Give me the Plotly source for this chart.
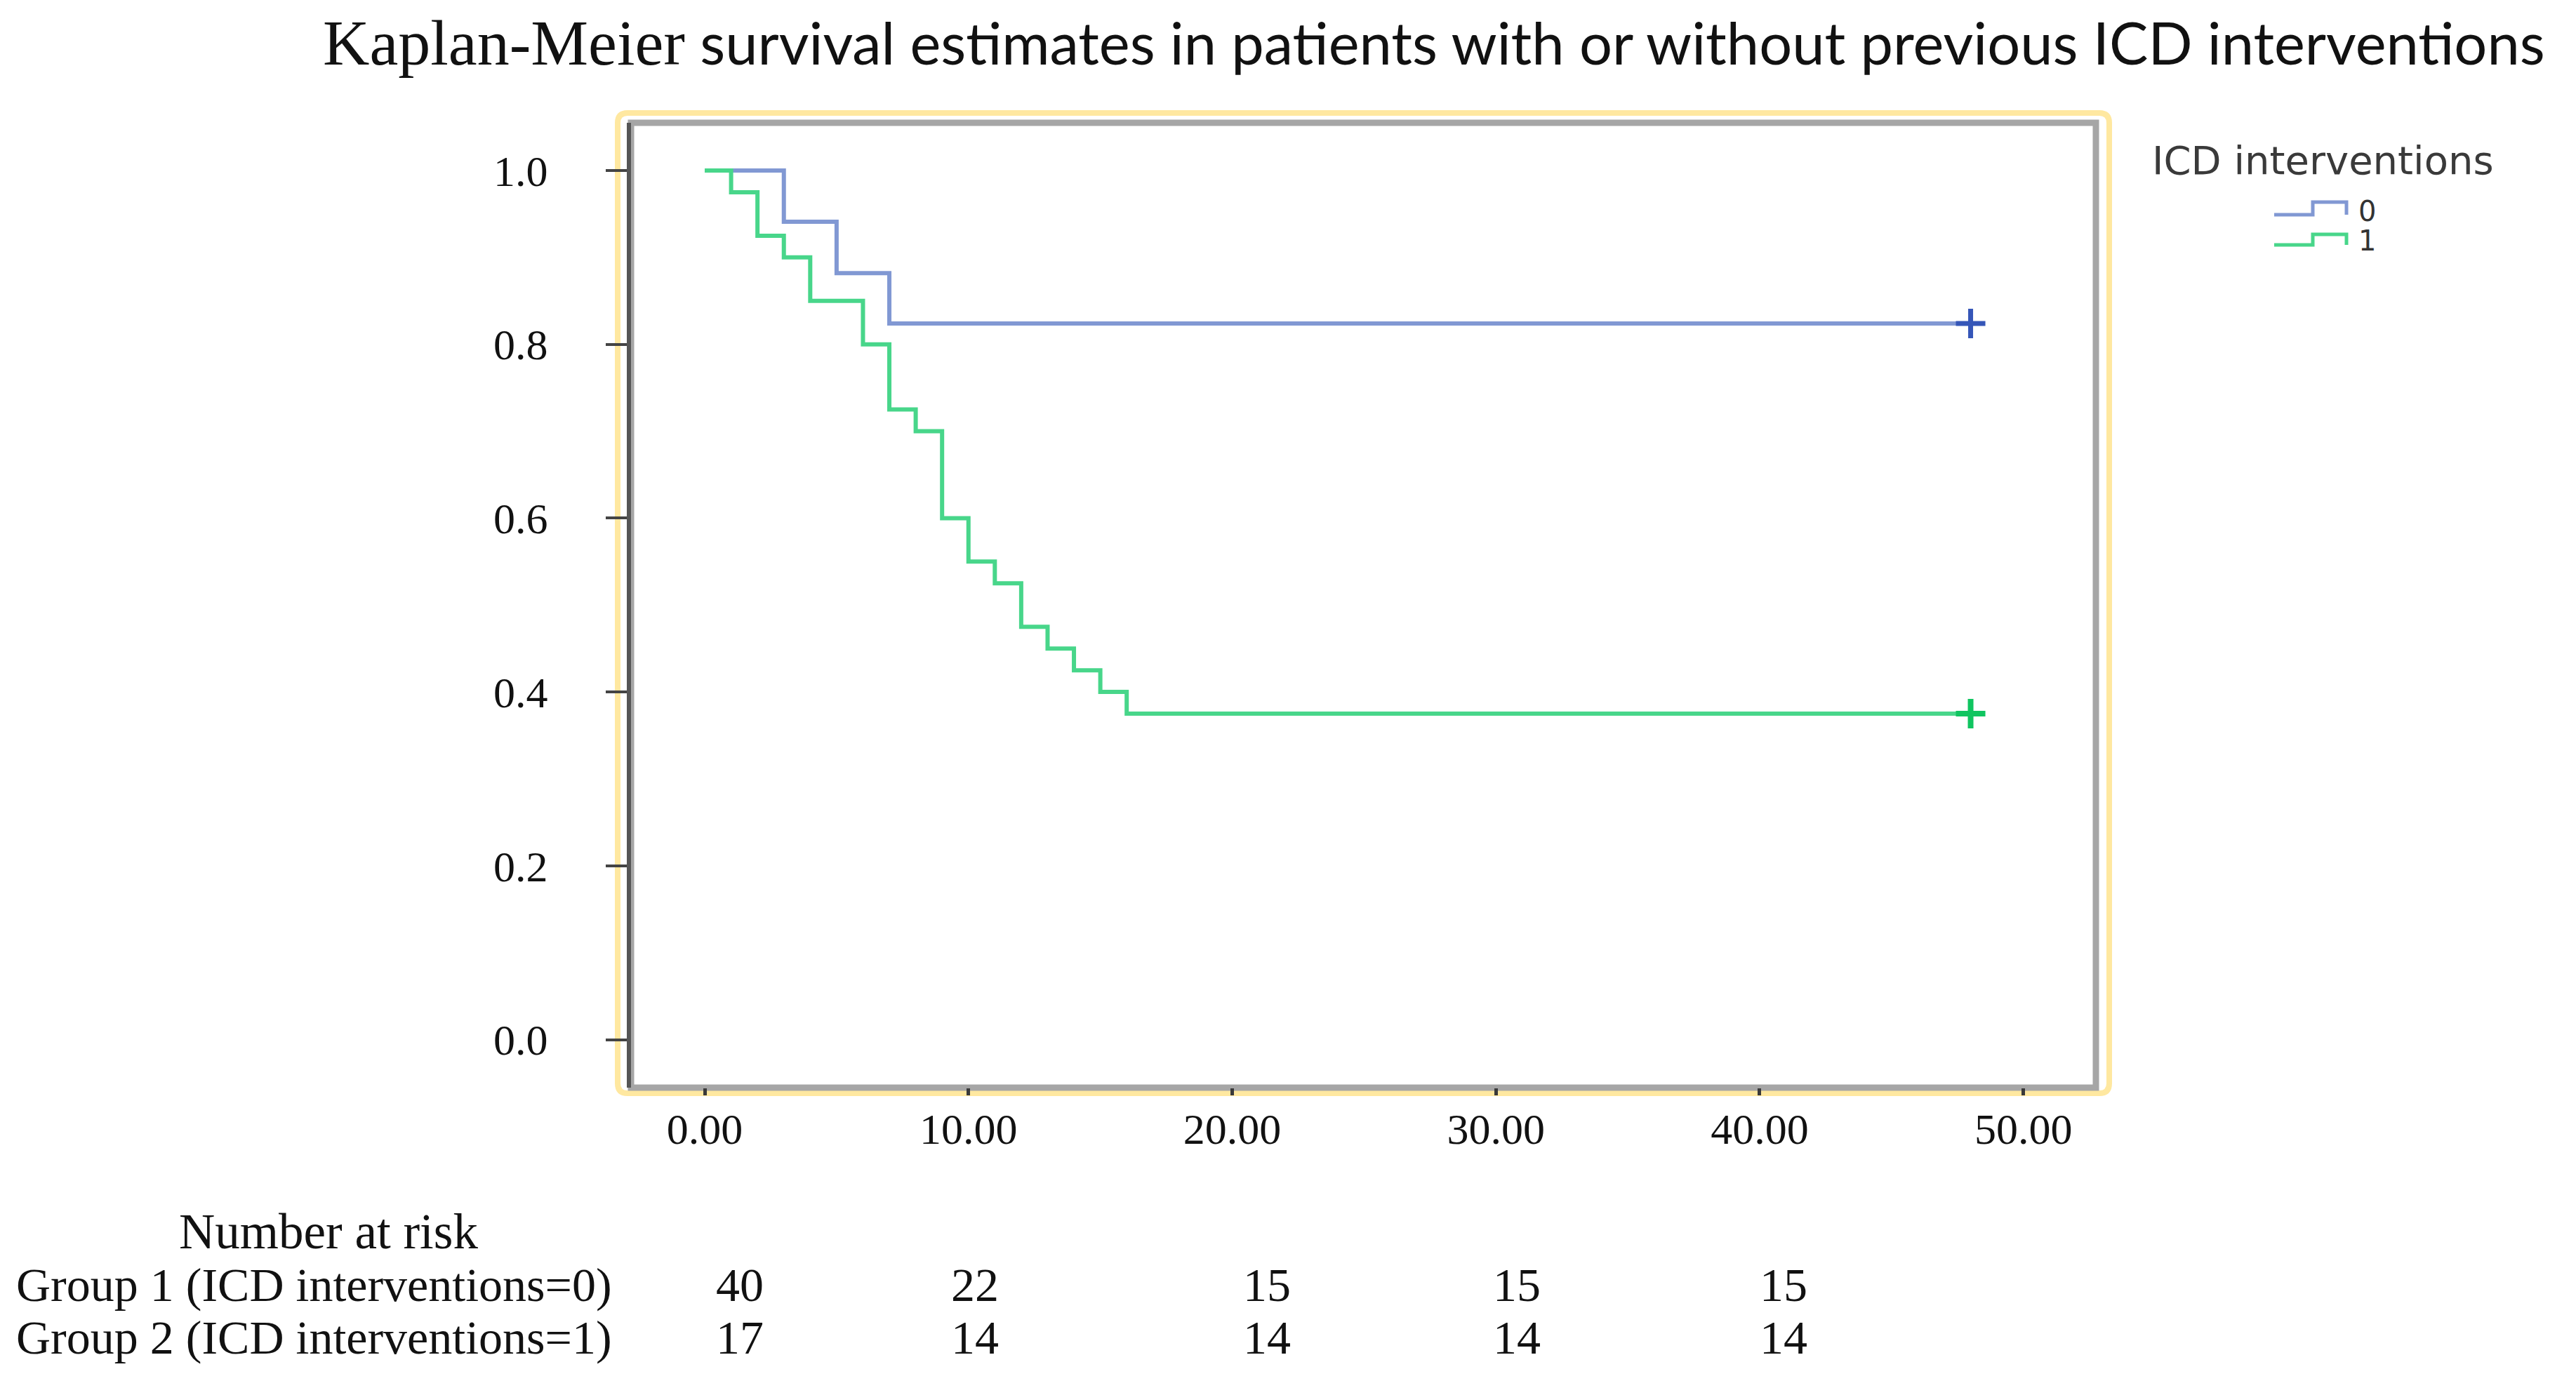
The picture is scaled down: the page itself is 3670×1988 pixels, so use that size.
import plotly.graph_objects as go

# ---------------- data ----------------
title_serif = "Kaplan-Meier"
title_rest = "survival estimates in patients with or without previous ICD interventions"

legend_title = "ICD interventions"
group_labels = ["0", "1"]

# Kaplan-Meier steps (time, survival)
times_0 = [0, 3, 5, 7, 48]
surv_0 = [1.0, 0.941, 0.882, 0.824, 0.824]

times_1 = [0, 1, 2, 3, 4, 6, 7, 8, 9, 10, 11, 12, 13, 14, 15, 16, 48]
surv_1 = [1.0, 0.975, 0.925, 0.900, 0.850, 0.800, 0.725, 0.700, 0.600,
          0.550, 0.525, 0.475, 0.450, 0.425, 0.400, 0.375, 0.375]

censor_time_0 = [48]
censor_surv_0 = [0.824]
censor_time_1 = [48]
censor_surv_1 = [0.375]

x_tick_vals = [0, 10, 20, 30, 40, 50]
x_tick_text = ["0.00", "10.00", "20.00", "30.00", "40.00", "50.00"]
y_tick_vals = [0.0, 0.2, 0.4, 0.6, 0.8, 1.0]
y_tick_text = ["0.0", "0.2", "0.4", "0.6", "0.8", "1.0"]

risk_header = "Number at risk"
risk_row_labels = ["Group 1 (ICD interventions=0)", "Group 2 (ICD interventions=1)"]
risk_times = [0, 10, 20, 30, 40]
risk_group1 = [40, 22, 15, 15, 15]
risk_group2 = [17, 14, 14, 14, 14]

# ---------------- layout geometry (pixels) ----------------
W, H = 3670, 1988
L, R, T, B = 891, 2978, 167, 1542


def px_x(p):
    return (p - L) / (R - L)


def px_y(p):
    return (B - p) / (B - T)


BLUE = "#8198d3"
BLUE_DARK = "#3556b8"
GREEN = "#48d68a"
GREEN_DARK = "#10c560"
SERIF = "Liberation Serif"

fig = go.Figure()

fig.add_trace(go.Scatter(x=times_0, y=surv_0, mode="lines", line=dict(color=BLUE, width=6, shape="hv"),
                         name=group_labels[0], showlegend=False, hoverinfo="x+y"))
fig.add_trace(go.Scatter(x=times_1, y=surv_1, mode="lines", line=dict(color=GREEN, width=6, shape="hv"),
                         name=group_labels[1], showlegend=False, hoverinfo="x+y"))
fig.add_trace(go.Scatter(x=censor_time_0, y=censor_surv_0, mode="markers",
                         marker=dict(symbol="cross-thin", size=30, line=dict(color=BLUE_DARK, width=7)),
                         showlegend=False, hoverinfo="skip"))
fig.add_trace(go.Scatter(x=censor_time_1, y=censor_surv_1, mode="markers",
                         marker=dict(symbol="cross-thin", size=30, line=dict(color=GREEN_DARK, width=8)),
                         showlegend=False, hoverinfo="skip"))

shapes = []
# outer yellow rounded frame
yl, yr, yt, yb, rad = 872, 2997, 153, 1550, 14
path = (f"M {px_x(yl + rad)},{px_y(yt)} L {px_x(yr - rad)},{px_y(yt)} "
        f"Q {px_x(yr)},{px_y(yt)} {px_x(yr)},{px_y(yt + rad)} "
        f"L {px_x(yr)},{px_y(yb - rad)} Q {px_x(yr)},{px_y(yb)} {px_x(yr - rad)},{px_y(yb)} "
        f"L {px_x(yl + rad)},{px_y(yb)} Q {px_x(yl)},{px_y(yb)} {px_x(yl)},{px_y(yb - rad)} "
        f"L {px_x(yl)},{px_y(yt + rad)} Q {px_x(yl)},{px_y(yt)} {px_x(yl + rad)},{px_y(yt)} Z")
shapes.append(dict(type="path", xref="paper", yref="paper", path=path,
                   line=dict(color="#ffe8a0", width=8), layer="below"))
# gray plot frame
shapes.append(dict(type="rect", xref="paper", yref="paper", x0=0, x1=1, y0=0, y1=1,
                   line=dict(color="#a6a6a6", width=9), layer="below"))


# legend step icons
def step_icon(x0, xm, x1, ylow, yhigh, color):
    p = (f"M {px_x(x0)},{px_y(ylow)} L {px_x(xm)},{px_y(ylow)} L {px_x(xm)},{px_y(yhigh)} "
         f"L {px_x(x1)},{px_y(yhigh)} L {px_x(x1)},{px_y(ylow)}")
    return dict(type="path", xref="paper", yref="paper", path=p, line=dict(color=color, width=5))


shapes.append(step_icon(3232, 3287, 3335, 298, 280, BLUE))
shapes.append(step_icon(3232, 3287, 3335, 341, 326, GREEN))

annotations = []
annotations.append(dict(text=legend_title, xref="paper", yref="paper", x=px_x(3056), y=px_y(220),
                        xanchor="left", yanchor="middle", showarrow=False,
                        font=dict(family="DejaVu Sans", size=56, color="#3a3a3a")))
for lab, ypx in zip(group_labels, [293, 335]):
    annotations.append(dict(text=lab, xref="paper", yref="paper", x=px_x(3350), y=px_y(ypx),
                            xanchor="left", yanchor="middle", showarrow=False,
                            font=dict(family="DejaVu Sans", size=40, color="#333333")))

# number at risk table
annotations.append(dict(text=risk_header, xref="paper", yref="paper", x=px_x(460), y=px_y(1747),
                        xanchor="center", yanchor="middle", showarrow=False,
                        font=dict(family=SERIF, size=71, color="#111111")))
col_xshift = [50, 9, 50, 30, 34]
for row_label, row_vals, ypx in zip(risk_row_labels, [risk_group1, risk_group2], [1823, 1898]):
    annotations.append(dict(text=row_label, xref="paper", yref="paper", x=px_x(13), y=px_y(ypx),
                            xanchor="left", yanchor="middle", showarrow=False,
                            font=dict(family=SERIF, size=68, color="#111111")))
    for t, v, sh in zip(risk_times, row_vals, col_xshift):
        annotations.append(dict(text=str(v), xref="x", yref="paper", x=t, xshift=sh, y=px_y(ypx),
                                xanchor="center", yanchor="middle", showarrow=False,
                                font=dict(family=SERIF, size=68, color="#111111")))

title_html = (f"<span style=\"font-family:'{SERIF}';font-size:92px\">{title_serif}</span> "
              f"{title_rest}")

fig.update_layout(
    width=W, height=H, autosize=False,
    margin=dict(l=L, r=W - R, t=T, b=H - B, pad=0),
    paper_bgcolor="white", plot_bgcolor="white",
    showlegend=False,
    title=dict(text=title_html, xref="container", yref="container", x=452 / W, xanchor="left",
               y=1 - 55 / H, yanchor="middle", font=dict(family="Lato", size=83, color="#111111")),
    shapes=shapes,
    annotations=annotations,
)

fig.update_xaxes(range=[-2.795, 52.75], tickvals=x_tick_vals, ticktext=x_tick_text,
                 showgrid=False, zeroline=False, showline=False,
                 ticks="outside", ticklen=10, tickwidth=5, tickcolor="#3a3a3a",
                 ticklabelstandoff=-5, automargin=False,
                 tickfont=dict(family=SERIF, size=62, color="#111111"))
fig.update_yaxes(range=[-0.0553, 1.0549], tickvals=y_tick_vals, ticktext=y_tick_text,
                 showgrid=False, zeroline=False, showline=True, linecolor="#555555", linewidth=6,
                 ticks="outside", ticklen=30, tickwidth=4, tickcolor="#444444",
                 ticklabelstandoff=70, automargin=False,
                 tickfont=dict(family=SERIF, size=62, color="#111111"))

fig.write_html("out.html")
